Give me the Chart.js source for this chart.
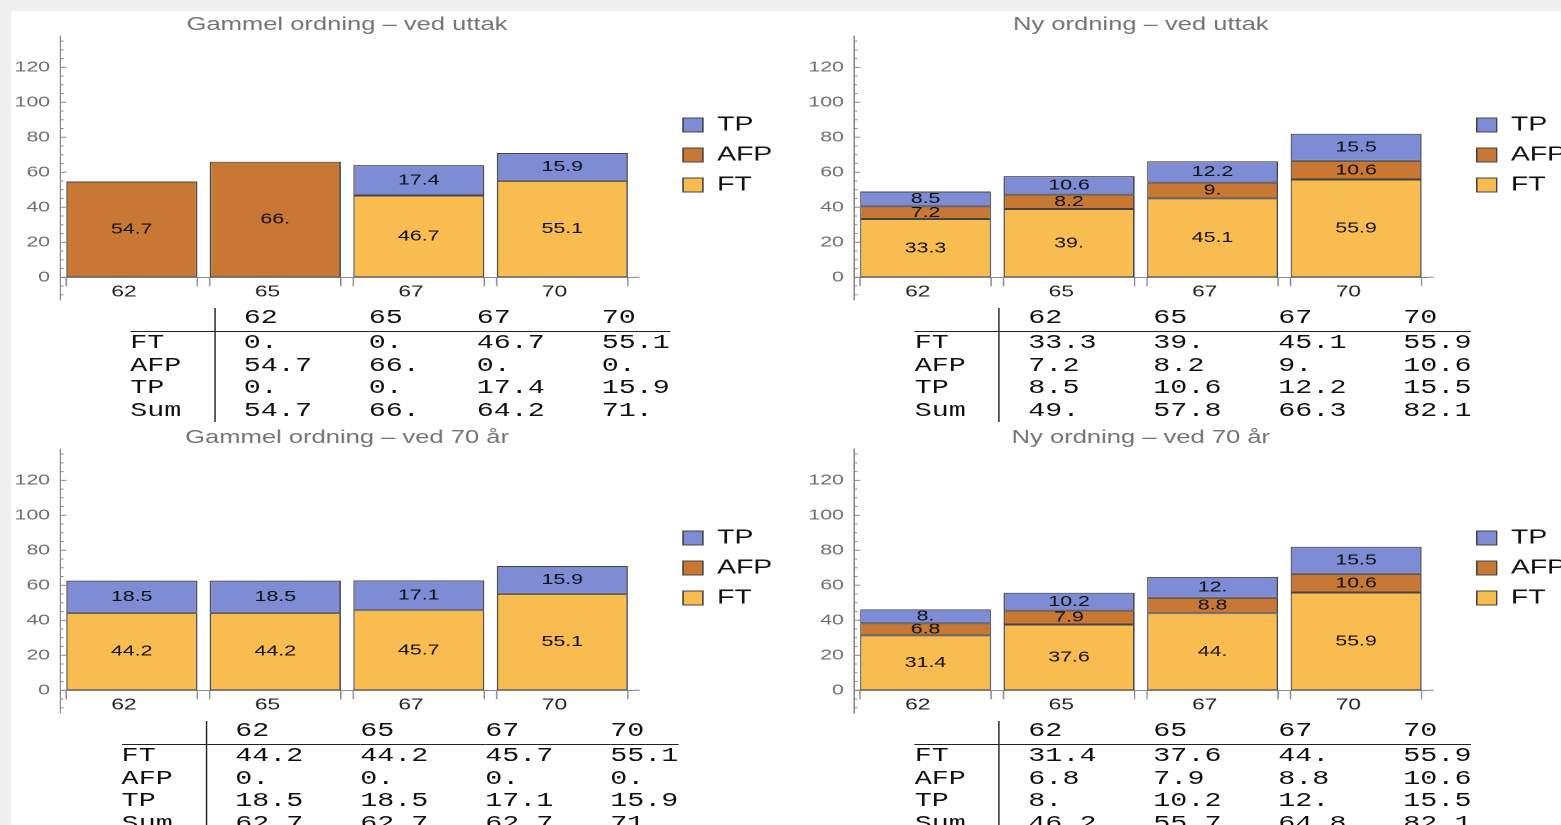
<!DOCTYPE html>
<html>
<head>
<meta charset="utf-8">
<title>Pensjon</title>
<script src="https://cdn.jsdelivr.net/npm/chart.js@4.4.1/dist/chart.umd.min.js"></script>
<style>
  html, body { margin: 0; padding: 0; overflow: hidden; background: #f0f0f0; }
  /* the reference is stretched sideways, so everything is laid out narrow and widened */
  #stage { position: absolute; left: 0; top: 0; width: 1100px; height: 825px; transform: scaleX(1.42); transform-origin: 0 0; }
  #sheet { position: absolute; left: 8.45px; top: 11px; right: 0; bottom: 0; background: #fff; }
  .panel { position: absolute; width: 559px; height: 316px; }
  table.grid { position: absolute; transform: translateX(-50%); border-collapse: collapse; font: 20px "Liberation Mono", monospace; color: #111; }
  table.grid td { padding: 0 40px 0 0; line-height: 22.5px; white-space: pre; }
  table.grid td:last-child { padding-right: 0; }
  table.grid td.lab { padding-right: 23px; border-right: 1.2px solid #222; }
  table.grid td.first { padding-left: 20px; }
  table.grid tr.head td { line-height: 20px; padding-bottom: 3px; border-bottom: 1.5px solid #222; }
</style>
</head>
<body>
<div id="stage">
  <div id="sheet"></div>
  <div class="panel" style="left:0;top:0"><canvas id="c1"></canvas></div>
  <div class="panel" style="left:558.5px;top:0"><canvas id="c2"></canvas></div>
  <div class="panel" style="left:0;top:413px"><canvas id="c3"></canvas></div>
  <div class="panel" style="left:558.5px;top:413px"><canvas id="c4"></canvas></div>
</div>
<script>
const ages = ["62", "65", "67", "70"];
const seriesNames = ["FT", "AFP", "TP"];
const yTicks = [0, 20, 40, 60, 80, 100, 120];

// Gammel ordning - ved uttak
const oldWithdrawFT = [0, 0, 46.7, 55.1];
const oldWithdrawAFP = [54.7, 66, 0, 0];
const oldWithdrawTP = [0, 0, 17.4, 15.9];
const oldWithdrawSum = [54.7, 66, 64.2, 71];

// Ny ordning - ved uttak
const newWithdrawFT = [33.3, 39, 45.1, 55.9];
const newWithdrawAFP = [7.2, 8.2, 9, 10.6];
const newWithdrawTP = [8.5, 10.6, 12.2, 15.5];
const newWithdrawSum = [49, 57.8, 66.3, 82.1];

// Gammel ordning - ved 70 år
const old70FT = [44.2, 44.2, 45.7, 55.1];
const old70AFP = [0, 0, 0, 0];
const old70TP = [18.5, 18.5, 17.1, 15.9];
const old70Sum = [62.7, 62.7, 62.7, 71];

// Ny ordning - ved 70 år
const new70FT = [31.4, 37.6, 44, 55.9];
const new70AFP = [6.8, 7.9, 8.8, 10.6];
const new70TP = [8, 10.2, 12, 15.5];
const new70Sum = [46.2, 55.7, 64.8, 82.1];

const colors = { FT: "#f9bc50", AFP: "#c87834", TP: "#7d8cd5" };
const axisColor = "#8a8a8a";
const sans = "Liberation Sans";

// Mathematica style numbers: 66 -> "66."
const fmt = v => Number.isInteger(v) ? v + "." : String(v);

const segmentLabels = {
  id: "segmentLabels",
  afterDatasetsDraw(chart) {
    const ctx = chart.ctx;
    ctx.save();
    ctx.font = "15px '" + sans + "'";
    ctx.fillStyle = "#111";
    ctx.textAlign = "center";
    ctx.textBaseline = "middle";
    chart.data.datasets.forEach((ds, di) => {
      chart.getDatasetMeta(di).data.forEach((bar, i) => {
        const v = ds.data[i];
        if (!v) return;
        ctx.fillText(fmt(v), bar.x, (bar.y + bar.base) / 2);
      });
    });
    ctx.restore();
  }
};

// inward ticks on the value axis, ticks under each bar edge, axis tail
const axisMarks = {
  id: "axisMarks",
  afterDraw(chart) {
    const { ctx, scales: { y } } = chart;
    const x0 = chart.chartArea.left;
    const y0 = y.getPixelForValue(0);
    ctx.save();
    ctx.strokeStyle = axisColor;
    ctx.lineWidth = 1;
    ctx.beginPath();
    for (let v = -10; v <= 135; v += 5) {
      const py = y.getPixelForValue(v);
      const len = v % 20 === 0 ? 4.5 : 2.5;
      ctx.moveTo(x0, py);
      ctx.lineTo(x0 + len, py);
    }
    chart.getDatasetMeta(0).data.forEach(bar => {
      const half = bar.width / 2;
      [bar.x - half, bar.x + half].forEach(px => {
        ctx.moveTo(px, y0);
        ctx.lineTo(px, y0 + 9);
      });
    });
    ctx.moveTo(chart.chartArea.right, y0);
    ctx.lineTo(chart.chartArea.right + 4.2, y0);
    ctx.stroke();
    ctx.restore();
  }
};

// legend sits to the right of the plot, a bit away from it
const legendSpot = {
  id: "legendSpot",
  afterLayout(chart) {
    const lg = chart.legend;
    if (!lg) return;
    const pad = lg.options.labels.padding;
    const dx = 481 - pad - lg.left;
    const dy = 115 - pad - lg.top;
    lg.left += dx; lg.right += dx;
    lg.top += dy; lg.bottom += dy;
  }
};

function makeChart(id, title, ft, afp, tp) {
  const values = [ft, afp, tp];
  return new Chart(document.getElementById(id), {
    type: "bar",
    data: {
      labels: ages,
      datasets: seriesNames.map((name, i) => ({
        label: name,
        data: values[i],
        backgroundColor: colors[name],
        borderColor: "#444",
        borderWidth: 1,
        borderSkipped: false,
        barPercentage: 0.913,
        categoryPercentage: 1
      }))
    },
    options: {
      responsive: true,
      maintainAspectRatio: false,
      animation: false,
      devicePixelRatio: 2,
      layout: { padding: { left: 0, top: 0, right: 112.5, bottom: 0 } },
      plugins: {
        title: {
          display: true, text: title, fullSize: false, color: "#747474",
          font: { family: sans, size: 18, weight: "normal" },
          padding: { top: 14, bottom: 0.4 }
        },
        legend: {
          position: "chartArea", align: "start", reverse: true,
          labels: { boxWidth: 14, boxHeight: 14, padding: 10, color: "#111", font: { family: sans, size: 20 } }
        },
        tooltip: { enabled: false }
      },
      scales: {
        x: {
          stacked: true, position: { y: 0 }, offset: true,
          afterFit: s => { s.height = 25; },
          grid: { display: false, drawTicks: false },
          border: { display: true, color: axisColor, width: 1 },
          ticks: { color: "#222", font: { family: sans, size: 16 }, padding: 5, labelOffset: -5.5, maxRotation: 0 }
        },
        y: {
          stacked: true, min: -13, max: 137.9,
          afterBuildTicks: s => { s.ticks = yTicks.map(v => ({ value: v })); },
          afterFit: s => { s.width = 42.25; },
          grid: { display: false, drawTicks: false },
          border: { display: true, color: axisColor, width: 1 },
          ticks: { color: "#6e6e6e", font: { family: sans, size: 15 }, padding: 7, autoSkip: false }
        }
      }
    },
    plugins: [segmentLabels, axisMarks, legendSpot]
  });
}

function makeTable(left, top, ft, afp, tp, sum) {
  const t = document.createElement("table");
  t.className = "grid";
  t.style.left = left + "px";
  t.style.top = top + "px";
  const rows = [["", ...ages], ["FT", ...ft.map(fmt)], ["AFP", ...afp.map(fmt)], ["TP", ...tp.map(fmt)], ["Sum", ...sum.map(fmt)]];
  rows.forEach((r, ri) => {
    const tr = document.createElement("tr");
    if (ri === 0) tr.className = "head";
    r.forEach((txt, ci) => {
      const td = document.createElement("td");
      if (ci === 0) td.className = "lab";
      if (ci === 1) td.className = "first";
      td.textContent = txt;
      tr.appendChild(td);
    });
    t.appendChild(tr);
  });
  document.getElementById("stage").appendChild(t);
}

makeChart("c1", "Gammel ordning – ved uttak", oldWithdrawFT, oldWithdrawAFP, oldWithdrawTP);
makeChart("c2", "Ny ordning – ved uttak", newWithdrawFT, newWithdrawAFP, newWithdrawTP);
makeChart("c3", "Gammel ordning – ved 70 år", old70FT, old70AFP, old70TP);
makeChart("c4", "Ny ordning – ved 70 år", new70FT, new70AFP, new70TP);

makeTable(281.7, 308, oldWithdrawFT, oldWithdrawAFP, oldWithdrawTP, oldWithdrawSum);
makeTable(840.2, 308, newWithdrawFT, newWithdrawAFP, newWithdrawTP, newWithdrawSum);
makeTable(281.7, 721, old70FT, old70AFP, old70TP, old70Sum);
makeTable(840.2, 721, new70FT, new70AFP, new70TP, new70Sum);
</script>
</body>
</html>
